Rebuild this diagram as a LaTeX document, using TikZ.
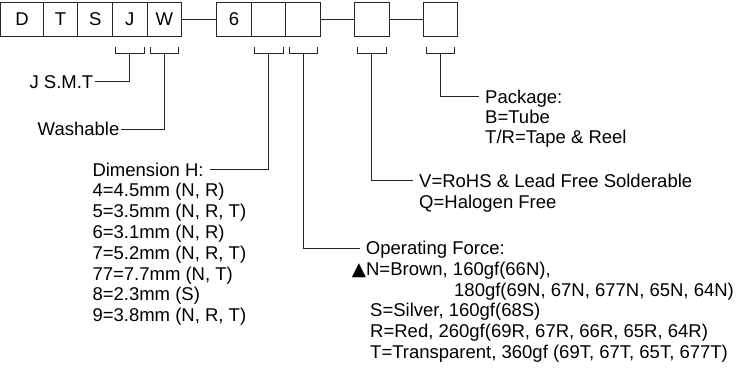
\documentclass[tikz,border=0pt]{standalone}
\usepackage{fontspec}
\setmainfont{Liberation Sans}
\newfontfamily\symfont{DejaVu Sans}
\usetikzlibrary{positioning}

\begin{document}
\begin{tikzpicture}[x=1pt,y=-1pt,
    every node/.style={font=\fontsize{18.5}{21}\selectfont},
    cell/.style={draw=black!85,line width=0.9pt,outer sep=0pt,inner sep=0pt,
      minimum width=34.6pt,minimum height=34pt},
    txt/.style={inner xsep=1.5pt,inner ysep=0pt,text height=13.2pt,text depth=0pt},
    hd/.style={txt,inner xsep=6pt},
    lead/.style={black!85,line width=0.8pt},
  ]
  \useasboundingbox (0,0) rectangle (739,367);
  % part number boxes
  \node[cell,minimum width=42.6pt] (c1) at (22,19.6) {D};
  \foreach \i/\j/\lab in {2/1/T,3/2/S,4/3/J,5/4/W} {
    \node[cell,right=0pt of c\j] (c\i) {\lab};
  }
  \node[cell,right=35pt of c5] (n1) {6};
  \node[cell,right=0pt of n1] (n2) {};
  \node[cell,right=0pt of n2] (n3) {};
  \node[cell,right=34pt of n3] (p1) {};
  \node[cell,right=34pt of p1] (q1) {};
  \draw[lead] (c5) -- (n1);
  \draw[lead] (n3) -- (p1);
  \draw[lead] (p1) -- (q1);
  % brackets under the boxes
  \foreach \b in {c4,c5,n2,n3,p1,q1} {
    \draw[lead] ([shift={(3,10)}]\b.south west) -- ++(0,7)
      -| ([shift={(-3,10)}]\b.south east);
    \coordinate (k\b) at ([shift={(0,17)}]\b.south);
  }
  % labels
  \node[txt,anchor=east] (jsmt) at (95,81.7) {J S.M.T};
  \node[txt,anchor=east] (wash) at (121,129.3) {Washable};
  \node[hd,anchor=west] (dimhd) at (86.3,169.5) {Dimension H:};
  \foreach \i/\lab in {1/{4=4.5mm (N, R)},2/{5=3.5mm (N, R, T)},3/{6=3.1mm (N, R)},
      4/{7=5.2mm (N, R, T)},5/{77=7.7mm (N, T)},6/{8=2.3mm (S)},7/{9=3.8mm (N, R, T)}} {
    \node[txt,anchor=west] (dim\i) at (90.8,{169.5+\i*20.8}) {\lab};
  }
  \node[hd,anchor=west] (pkhd) at (479,96.5) {Package:};
  \node[txt,anchor=west] (pk1) at (483.5,116.8) {B=Tube};
  \node[txt,anchor=west] (pk2) at (483.5,137) {T/R=Tape \& Reel};
  \node[hd,anchor=west] (rohs) at (413,180.7) {V=RoHS \& Lead Free Solderable};
  \node[txt,anchor=west] (hal) at (417.5,201.4) {Q=Halogen Free};
  \node[hd,anchor=west] (ophd) at (359.7,248) {Operating Force:};
  \node[txt,anchor=west] (op1) at (350.2,268.7) {{\symfont ▲}N=Brown, 160gf(66N),};
  \node[txt,anchor=west] (op2) at (452.5,289.4) {180gf(69N, 67N, 677N, 65N, 64N)};
  \foreach \i/\lab in {3/{S=Silver, 160gf(68S)},4/{R=Red, 260gf(69R, 67R, 66R, 65R, 64R)},
      5/{T=Transparent, 360gf (69T, 67T, 65T, 677T)}} {
    \node[txt,anchor=west] (op\i) at (368.5,{248+\i*20.7}) {\lab};
  }
  % leaders
  \draw[lead] (kc4) |- (jsmt);
  \draw[lead] (kc5) |- (wash);
  \draw[lead] (kn2) |- (dimhd);
  \draw[lead] (kn3) |- (ophd);
  \draw[lead] (kp1) |- (rohs);
  \draw[lead] (kq1) |- (pkhd);
\end{tikzpicture}
\end{document}
